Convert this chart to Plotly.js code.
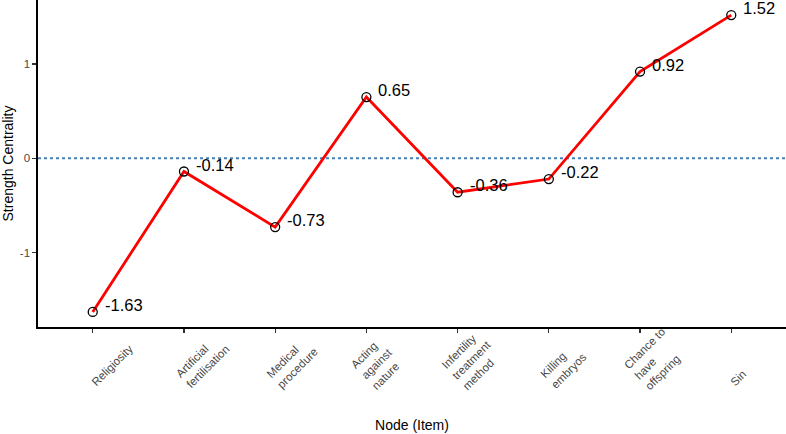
<!DOCTYPE html>
<html>
<head>
<meta charset="utf-8">
<script src="https://cdn.plot.ly/plotly-3.0.1.min.js"></script>
<style>
  html, body { margin: 0; padding: 0; background: #ffffff; }
  #chart { width: 786px; height: 434px; }
</style>
</head>
<body>
<div id="chart"></div>
<script>
// Node labels (line breaks as drawn under each tick)
const nodes = [
  "Religiosity",
  "Artificial<br>fertilisation",
  "Medical<br>procedure",
  "Acting<br>against<br>nature",
  "Infertility<br>treatment<br>method",
  "Killing<br>embryos",
  "Chance to<br>have<br>offspring",
  "Sin"
];

// Standardised strength centrality per node
const strength = [-1.63, -0.14, -0.73, 0.65, -0.36, -0.22, 0.92, 1.52];

// Y-axis ticks
const yTickVals = [-1, 0, 1];
const yTickText = ["-1", "0", "1"];

const FONT = "Liberation Sans, Arial, Helvetica, sans-serif";

const trace = {
  type: "scatter",
  mode: "lines+markers",
  x: nodes,
  y: strength,
  line: { color: "#ff0000", width: 2.8 },
  marker: {
    symbol: "circle-open",
    size: 9,
    color: "#000000",
    line: { color: "#000000", width: 1.3 }
  },
  hoverinfo: "skip",
  cliponaxis: false
};

// Value labels beside each point
const valueLabels = nodes.map((n, i) => ({
  x: n,
  y: strength[i],
  xref: "x",
  yref: "y",
  text: strength[i].toFixed(2),
  showarrow: false,
  xanchor: "left",
  yanchor: "middle",
  xshift: 11,
  yshift: 7,
  borderpad: 0,
  font: { family: FONT, size: 16.5, color: "#000000" }
}));

// Rotated node labels under the x axis, left-justified lines
const tickLabels = nodes.map(n => {
  const lines = n.split("<br>").length;
  return {
    x: n,
    y: 0,
    xref: "x",
    yref: "paper",
    text: n,
    showarrow: false,
    textangle: -45,
    align: "left",
    xanchor: "left",
    yanchor: "bottom",
    xshift: -6 - 7.5 * (lines - 1),
    yshift: -64 - 2 * (lines - 1),
    font: { family: FONT, size: 11.5, color: "#474747" }
  };
});

const layout = {
  width: 786,
  height: 434,
  margin: { l: 38, r: 0, t: 0, b: 107, pad: 0 },
  paper_bgcolor: "#ffffff",
  plot_bgcolor: "#ffffff",
  showlegend: false,
  font: { family: FONT, color: "#000000" },
  xaxis: {
    type: "category",
    range: [-0.6, 7.6],
    showgrid: false,
    zeroline: false,
    showline: true,
    linecolor: "#000000",
    linewidth: 1.6,
    ticks: "outside",
    ticklen: 4,
    tickwidth: 1.2,
    tickcolor: "#333333",
    showticklabels: false,
    fixedrange: true,
    automargin: false,
    title: {
      text: "Node (Item)",
      font: { family: FONT, size: 14, color: "#000000" },
      standoff: 88
    }
  },
  yaxis: {
    range: [-1.79, 1.68],
    showgrid: false,
    zeroline: false,
    showline: true,
    linecolor: "#000000",
    linewidth: 1.6,
    ticks: "outside",
    ticklen: 4,
    tickwidth: 1.2,
    tickcolor: "#333333",
    tickvals: yTickVals,
    ticktext: yTickText,
    tickfont: { family: FONT, size: 11.5, color: "#474747" },
    fixedrange: true,
    automargin: false,
    title: {
      text: "Strength Centrality",
      font: { family: FONT, size: 14, color: "#000000" },
      standoff: 3
    }
  },
  shapes: [{
    type: "line",
    xref: "paper",
    yref: "y",
    x0: 0,
    x1: 1,
    y0: 0,
    y1: 0,
    line: { color: "#4a7fb5", width: 2, dash: "dot" },
    layer: "below"
  }],
  annotations: valueLabels.concat(tickLabels)
};

Plotly.newPlot("chart", [trace], layout, { displayModeBar: false, staticPlot: true });
</script>
</body>
</html>
